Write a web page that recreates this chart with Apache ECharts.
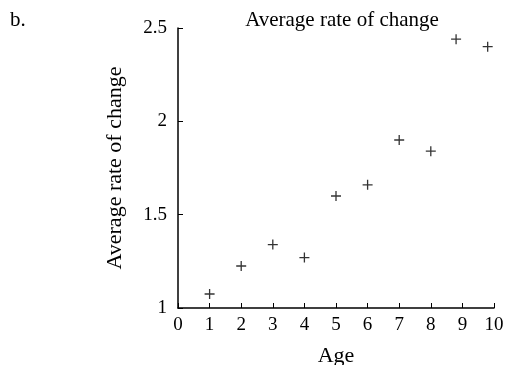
<!DOCTYPE html>
<html>
<head>
<meta charset="utf-8">
<script src="https://cdn.jsdelivr.net/npm/echarts@6/dist/echarts.min.js"></script>
<style>html,body{margin:0;padding:0;background:#fff;}#c{width:508px;height:365px;}</style>
</head>
<body>
<div id="c"></div>
<script>
var ages = [1, 2, 3, 4, 5, 6, 7, 8, 8.8, 9.8];
var rates = [1.075, 1.225, 1.34, 1.27, 1.60, 1.66, 1.90, 1.84, 2.44, 2.40];
var titleText = 'Average rate of change';
var xName = 'Age';
var yName = 'Average rate of change';
var panelLabel = 'b.';

var font = 'Liberation Serif';
var chart = echarts.init(document.getElementById('c'), null, {renderer: 'canvas'});
chart.setOption({
  animation: false,
  backgroundColor: '#fff',
  title: [{
    text: titleText, left: 337, top: 5, textAlign: 'center',
    textStyle: {fontFamily: font, fontSize: 21, fontWeight: 'normal', color: '#000'}
  }, {
    text: panelLabel, left: 5, top: 5,
    textStyle: {fontFamily: font, fontSize: 21, fontWeight: 'normal', color: '#000'}
  }],
  grid: {left: 178, right: 14, top: 28, bottom: 57, containLabel: false, outerBoundsMode: 'none'},
  xAxis: {
    type: 'value', min: 0, max: 10, interval: 1,
    name: xName, nameLocation: 'middle', nameGap: 37,
    nameTextStyle: {fontFamily: font, fontSize: 22, color: '#000'},
    axisLine: {show: true, lineStyle: {color: '#000', width: 1.5}},
    axisTick: {show: true, inside: true, length: 5, lineStyle: {color: '#000', width: 1}},
    axisLabel: {fontFamily: font, fontSize: 19, color: '#000', margin: 8},
    splitLine: {show: false}
  },
  yAxis: {
    type: 'value', min: 1, max: 2.5, interval: 0.5,
    name: yName, nameLocation: 'middle', nameGap: 52,
    nameTextStyle: {fontFamily: font, fontSize: 22, color: '#000'},
    axisLine: {show: true, lineStyle: {color: '#000', width: 1.5}},
    axisTick: {show: true, inside: true, length: 5, lineStyle: {color: '#000', width: 1}},
    axisLabel: {fontFamily: font, fontSize: 19, color: '#000', margin: 11},
    splitLine: {show: false}
  },
  series: [{
    type: 'scatter',
    data: ages.map(function (a, i) { return [a, rates[i]]; }),
    symbol: 'path://M-0.13,-1H0.13V-0.13H1V0.13H0.13V1H-0.13V0.13H-1V-0.13H-0.13Z',
    symbolSize: 10,
    itemStyle: {color: '#000'}
  }]
});
</script>
</body>
</html>
